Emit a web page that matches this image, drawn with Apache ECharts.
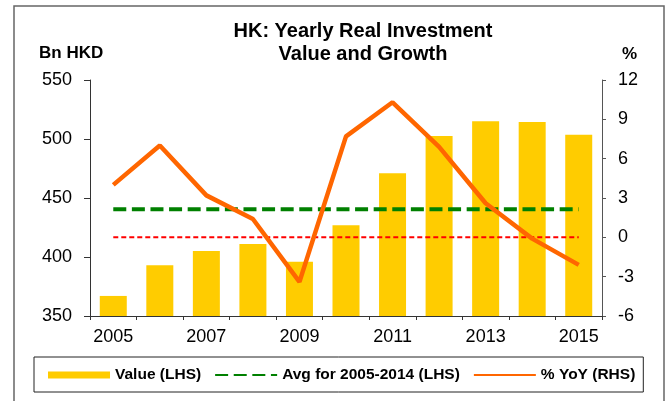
<!DOCTYPE html>
<html>
<head>
<meta charset="utf-8">
<script src="https://cdn.jsdelivr.net/npm/echarts@6/dist/echarts.min.js"></script>
<style>
html,body{margin:0;padding:0;background:#fff;}
#chart{width:669px;height:401px;}
</style>
</head>
<body>
<div id="chart"></div>
<script>
const years = ['2005','2006','2007','2008','2009','2010','2011','2012','2013','2014','2015'];
const investValue = [367, 393, 405, 411, 396, 427, 471, 502.5, 515, 514.5, 503.5];
const avg2005to2014 = [440.5, 440.5, 440.5, 440.5, 440.5, 440.5, 440.5, 440.5, 440.5, 440.5, 440.5];
const yoyPct = [4.0, 7.0, 3.2, 1.4, -3.4, 7.7, 10.3, 6.9, 2.6, -0.1, -2.1];
const zeroLine = [0, 0, 0, 0, 0, 0, 0, 0, 0, 0, 0];
const leftTicks = [350, 400, 450, 500, 550];
const rightTicks = [-6, -3, 0, 3, 6, 9, 12];

const FONT = "'Liberation Sans', Arial, sans-serif";
const chart = echarts.init(document.getElementById('chart'), null, {renderer: 'canvas'});

chart.setOption({
  animation: false,
  backgroundColor: '#ffffff',
  textStyle: {fontFamily: FONT},
  title: {
    text: 'HK: Yearly Real Investment\nValue and Growth',
    left: 358,
    top: 15,
    textAlign: 'center',
    textStyle: {fontFamily: FONT, fontSize: 20, fontWeight: 'bold', color: '#000', lineHeight: 23}
  },
  graphic: [
    {type: 'rect', shape: {x: 14, y: 6, width: 650, height: 430}, style: {fill: 'none', stroke: '#666', lineWidth: 1.5}, silent: true},
    {type: 'text', left: 39, top: 45, style: {text: 'Bn HKD', font: "bold 17px 'Liberation Sans', Arial", fill: '#000'}},
    {type: 'text', left: 622, top: 46, style: {text: '%', font: "bold 17px 'Liberation Sans', Arial", fill: '#000'}}
  ],
  legend: {
    data: [
      {name: 'Value (LHS)', icon: 'rect'},
      {name: 'Avg for 2005-2014 (LHS)', itemStyle: {opacity: 0}},
      {name: '% YoY (RHS)', itemStyle: {opacity: 0}}
    ],
    left: 34,
    top: 357,
    orient: 'horizontal',
    itemWidth: 62,
    itemHeight: 7,
    itemGap: 13,
    padding: [10, 8, 9, 14],
    borderColor: '#222',
    borderWidth: 1,
    textStyle: {fontFamily: FONT, fontSize: 15.5, fontWeight: 'bold', color: '#000'}
  },
  grid: {left: 90, right: 67, top: 80, bottom: 85, containLabel: false},
  xAxis: {
    type: 'category',
    data: years,
    boundaryGap: true,
    axisLine: {onZero: false, lineStyle: {color: '#333', width: 1}},
    axisTick: {show: true, alignWithLabel: false, interval: 0, length: 4, lineStyle: {color: '#333'}},
    axisLabel: {interval: 1, color: '#000', fontSize: 18, fontFamily: FONT, margin: 12},
    splitLine: {show: false}
  },
  yAxis: [
    {
      type: 'value', min: 350, max: 550, interval: 50, position: 'left',
      axisLine: {show: true, onZero: false, lineStyle: {color: '#333'}},
      axisTick: {show: true, length: 6, lineStyle: {color: '#333'}},
      axisLabel: {color: '#000', fontSize: 18, fontFamily: FONT, margin: 18},
      splitLine: {show: false}
    },
    {
      type: 'value', min: -6, max: 12, interval: 3, position: 'right',
      axisLine: {show: true, onZero: false, lineStyle: {color: '#555'}},
      axisTick: {show: true, length: 4, lineStyle: {color: '#555'}},
      axisLabel: {color: '#000', fontSize: 18, fontFamily: FONT, margin: 16},
      splitLine: {show: false}
    }
  ],
  series: [
    {
      name: 'Value (LHS)', type: 'bar', yAxisIndex: 0, data: investValue,
      barWidth: 27, itemStyle: {color: '#FFCC00'}, z: 1
    },
    {
      name: 'zero', type: 'line', yAxisIndex: 1, data: zeroLine, symbol: 'none',
      lineStyle: {color: '#FF0000', width: 2, type: [5, 3]}, z: 2
    },
    {
      name: 'Avg for 2005-2014 (LHS)', type: 'line', yAxisIndex: 0, data: avg2005to2014, symbol: 'none',
      itemStyle: {color: '#008000'},
      lineStyle: {color: '#008000', width: 4, type: [13, 5.6]}, z: 3
    },
    {
      name: '% YoY (RHS)', type: 'line', yAxisIndex: 1, data: yoyPct, symbol: 'none',
      itemStyle: {color: '#FF6600'},
      lineStyle: {color: '#FF6600', width: 4.5}, z: 4
    }
  ]
});
</script>
</body>
</html>
